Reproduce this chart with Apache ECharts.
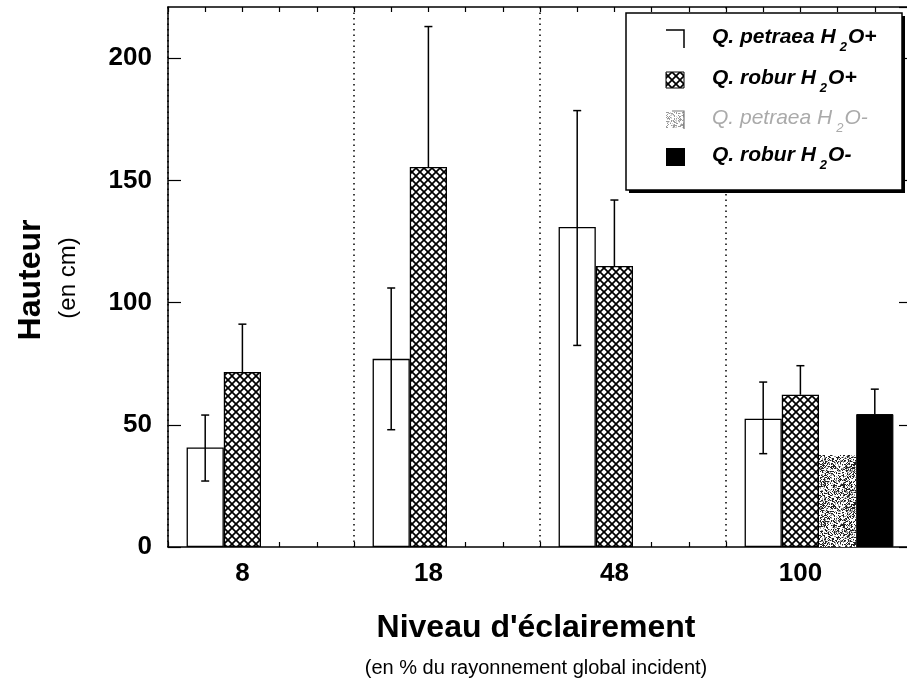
<!DOCTYPE html>
<html><head><meta charset="utf-8">
<script src="https://cdn.jsdelivr.net/npm/echarts@6/dist/echarts.min.js"></script>
<style>html,body{margin:0;padding:0;background:#fff}#c{width:907px;height:683px}</style>
</head><body><div id="c"></div>
<script>
// ---- data ----
const categories = ['8', '18', '48', '100'];
const seriesNames = ['Q. petraea H2O+', 'Q. robur H2O+', 'Q. petraea H2O-', 'Q. robur H2O-'];
const petraeaWet = [40.7, 77, 131, 52.5];
const roburWet = [71.6, 155.5, 115, 62.3];
const petraeaDry = [null, null, null, 37.7];
const roburDry = [null, null, null, 54.4];
const petraeaWetErrLow = [27, 48, 82.5, 38.2];
const petraeaWetErrHigh = [54, 106, 178.6, 67.5];
const roburWetErrHigh = [91.2, 213, 142, 74.2];
const roburDryErrHigh = [null, null, null, 64.6];
const yMin = 0, yMax = 221, yStep = 50;

// ---- fill textures ----
function hatchPattern() {
  const c = document.createElement('canvas'); c.width = 8; c.height = 8;
  const g = c.getContext('2d');
  g.fillStyle = '#fff'; g.fillRect(0, 0, 8, 8);
  g.strokeStyle = '#000'; g.lineWidth = 1.7;
  for (const o of [-8, 0, 8]) {
    g.beginPath(); g.moveTo(o, 0); g.lineTo(o + 8, 8); g.stroke();
    g.beginPath(); g.moveTo(o + 8, 0); g.lineTo(o, 8); g.stroke();
  }
  return { image: c, repeat: 'repeat' };
}
function texHash(x, y) { // deterministic integer hash used only for the speckle texture
  let h = Math.imul(x, 374761393) + Math.imul(y, 668265263);
  h = Math.imul(h ^ (h >>> 13), 1274126177);
  h ^= h >>> 16;
  return (h >>> 0) / 4294967296;
}
function stipplePattern() {
  const n = 40;
  const c = document.createElement('canvas'); c.width = n; c.height = n;
  const g = c.getContext('2d');
  g.fillStyle = '#fff'; g.fillRect(0, 0, n, n);
  for (let x = 0; x < n; x++) for (let y = 0; y < n; y++) {
    const h = texHash(x, y);
    if (h < 0.3) { g.fillStyle = '#222'; g.fillRect(x, y, 1, 1); }
    else if (h < 0.5) { g.fillStyle = '#999'; g.fillRect(x, y, 1, 1); }
  }
  return { image: c, repeat: 'repeat' };
}
const HATCH = hatchPattern(), STIPPLE = stipplePattern();

const seriesVals = [petraeaWet, roburWet, petraeaDry, roburDry];
const nSlots = seriesVals.length;

// error bar items: [cat, low, high, slot, lowCap]
const errData = [];
categories.forEach((_, i) => {
  errData.push([i, petraeaWetErrLow[i], petraeaWetErrHigh[i], 0, 1]);
  errData.push([i, roburWet[i], roburWetErrHigh[i], 1, 0]);
  if (roburDryErrHigh[i] != null) errData.push([i, roburDry[i], roburDryErrHigh[i], 3, 0]);
});

const FONT = 'Liberation Sans';
const barStyle = [
  { color: '#fff', borderColor: '#000', borderWidth: 1.3 },
  { color: HATCH, borderColor: '#000', borderWidth: 1.3 },
  { color: STIPPLE, borderWidth: 0 },
  { color: '#000', borderColor: '#000', borderWidth: 1 }
];

const chart = echarts.init(document.getElementById('c'), null, { renderer: 'canvas' });

function legendText(name) {
  const p = name.split('H2O');
  return '{a|' + p[0] + 'H}{s|2}{a|O' + p[1] + '}';
}
const legendRows = [39, 80, 120, 157];
const legendGraphics = [
  { type: 'rect', shape: { x: 629, y: 16, width: 276, height: 177 }, style: { fill: '#000' }, z: 100 },
  { type: 'rect', shape: { x: 626, y: 13, width: 276, height: 177 }, style: { fill: '#fff', stroke: '#000', lineWidth: 1.5 }, z: 101 }
];
seriesNames.forEach((nm, k) => {
  const cy = legendRows[k];
  if (k === 0) {
    legendGraphics.push({ type: 'polyline', shape: { points: [[666, cy - 9], [684, cy - 9], [684, cy + 9]] }, style: { stroke: '#000', lineWidth: 1.5, fill: null }, z: 102 });
  } else if (k === 1) {
    legendGraphics.push({ type: 'rect', shape: { x: 666, y: cy - 8, width: 18, height: 16 }, style: { fill: HATCH, stroke: '#000', lineWidth: 1 }, z: 102 });
  } else if (k === 2) {
    legendGraphics.push({ type: 'rect', shape: { x: 666, y: cy - 8, width: 18, height: 16 }, style: { fill: STIPPLE, opacity: 0.45 }, z: 102 });
    legendGraphics.push({ type: 'polyline', shape: { points: [[672, cy - 9], [684, cy - 9], [684, cy + 9]] }, style: { stroke: '#777', lineWidth: 1.2, fill: null }, z: 102 });
  } else {
    legendGraphics.push({ type: 'rect', shape: { x: 666, y: cy - 9, width: 19, height: 18 }, style: { fill: '#000' }, z: 102 });
  }
  const gray = k === 2;
  const col = gray ? '#aaa' : '#000';
  const fw = gray ? 'normal' : 'bold';
  legendGraphics.push({
    type: 'text', x: 712, y: cy - 12, z: 103,
    style: {
      text: legendText(nm), rich: {
        a: { fontFamily: FONT, fontSize: 21, fontStyle: 'italic', fontWeight: fw, fill: col, lineHeight: 24, verticalAlign: 'top' },
        s: { fontFamily: FONT, fontSize: 13, fontStyle: 'italic', fontWeight: fw, fill: col, lineHeight: 13, padding: [14, 1, 0, 4], verticalAlign: 'top' }
      }
    }
  });
});

const slotW = 1 / (nSlots + 1); // 0.2 of a category per bar slot
const option = {
  animation: false,
  backgroundColor: '#fff',
  grid: { left: 168, right: -5, top: 7, bottom: 136, containLabel: false, outerBoundsMode: 'none' },
  xAxis: [
    { type: 'category', data: categories, position: 'bottom',
      axisLine: { show: true, onZero: false, lineStyle: { color: '#000', width: 1.5 } },
      axisTick: { show: false }, axisLabel: { show: false },
      splitLine: { show: true, lineStyle: { color: '#000', width: 1.5, type: [1.5, 4] } } },
    { type: 'value', min: 0, max: categories.length, interval: slotW, position: 'bottom',
      axisLine: { show: false, onZero: false },
      axisTick: { show: true, inside: true, length: 5, lineStyle: { color: '#000', width: 1.2 } },
      splitLine: { show: false },
      axisLabel: { margin: 14, color: '#000', fontFamily: FONT, fontWeight: 'bold', fontSize: 26,
        formatter: v => { const k = Math.round(v / slotW); return (k % (nSlots + 1) === 2) ? categories[(k - 2) / (nSlots + 1)] : ''; } } },
    { type: 'value', min: 0, max: categories.length, interval: slotW, position: 'top',
      axisLine: { show: true, onZero: false, lineStyle: { color: '#000', width: 1.5 } },
      axisTick: { show: true, inside: true, length: 5, lineStyle: { color: '#000', width: 1.2 } },
      axisLabel: { show: false }, splitLine: { show: false } }
  ],
  yAxis: [
    { type: 'value', min: yMin, max: yMax, interval: yStep, position: 'left',
      axisLine: { show: true, onZero: false, lineStyle: { color: '#000', width: 1.5 } },
      axisTick: { show: true, inside: true, length: 13, lineStyle: { color: '#000', width: 1.2 } },
      axisLabel: { margin: 16, color: '#000', fontFamily: FONT, fontWeight: 'bold', fontSize: 26, showMaxLabel: false },
      splitLine: { show: false } },
    { type: 'value', min: yMin, max: yMax, interval: yStep, position: 'right',
      axisLine: { show: true, onZero: false, lineStyle: { color: '#000', width: 1.5 } },
      axisTick: { show: true, inside: true, length: 13, lineStyle: { color: '#000', width: 1.2 } },
      axisLabel: { show: false }, splitLine: { show: false } }
  ],
  series: [
    ...seriesVals.map((vals, k) => ({
      type: 'bar', name: seriesNames[k], data: vals, xAxisIndex: 0, yAxisIndex: 0,
      barGap: '0%', barCategoryGap: '20%', itemStyle: barStyle[k], silent: true
    })),
    { type: 'custom', xAxisIndex: 0, yAxisIndex: 0, data: errData, z: 5, silent: true,
      renderItem: (params, api) => {
        const cat = api.value(0), lo = api.value(1), hi = api.value(2), slot = api.value(3), lowCap = api.value(4);
        const band = api.size([1, 0])[0];
        const cx = api.coord([cat, 0])[0] + (slot - (nSlots - 1) / 2) * band * slotW;
        const yLo = api.coord([cat, lo])[1], yHi = api.coord([cat, hi])[1];
        const hw = 4, st = { stroke: '#000', lineWidth: 1.5 };
        const ch = [
          { type: 'line', shape: { x1: cx, y1: yLo, x2: cx, y2: yHi }, style: st },
          { type: 'line', shape: { x1: cx - hw, y1: yHi, x2: cx + hw, y2: yHi }, style: st }
        ];
        if (lowCap) ch.push({ type: 'line', shape: { x1: cx - hw, y1: yLo, x2: cx + hw, y2: yLo }, style: st });
        return { type: 'group', children: ch };
      } }
  ],
  graphic: [
    { type: 'text', x: 31, y: 280, rotation: Math.PI / 2, z: 50,
      style: { text: 'Hauteur', fontFamily: FONT, fontWeight: 'bold', fontSize: 32, fill: '#000', align: 'center', verticalAlign: 'middle' } },
    { type: 'text', x: 68, y: 278, rotation: Math.PI / 2, z: 50,
      style: { text: '(en cm)', fontFamily: FONT, fontSize: 24, fill: '#000', align: 'center', verticalAlign: 'middle' } },
    { type: 'text', x: 536, y: 628, z: 50,
      style: { text: "Niveau d'éclairement", fontFamily: FONT, fontWeight: 'bold', fontSize: 32, fill: '#000', align: 'center', verticalAlign: 'middle' } },
    { type: 'text', x: 536, y: 668, z: 50,
      style: { text: '(en % du rayonnement global incident)', fontFamily: FONT, fontSize: 20, fill: '#000', align: 'center', verticalAlign: 'middle' } },
    ...legendGraphics
  ]
};
chart.setOption(option);
</script>
</body></html>
